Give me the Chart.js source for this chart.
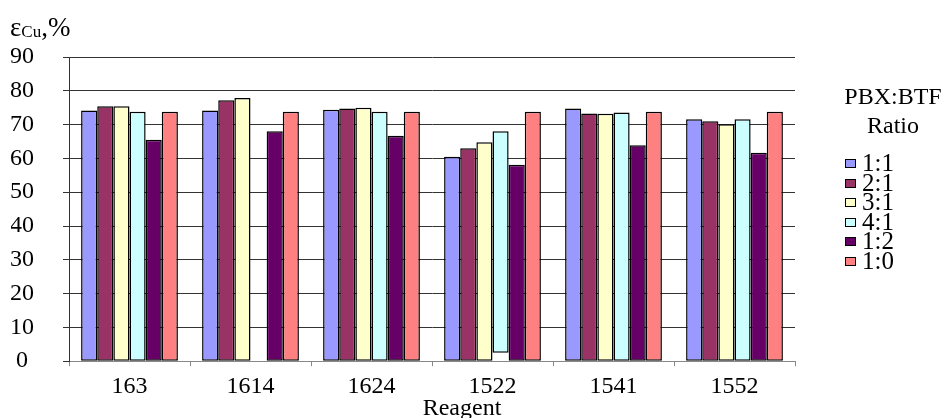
<!DOCTYPE html>
<html>
<head>
<meta charset="utf-8">
<script src="https://cdn.jsdelivr.net/npm/chart.js@4.4.0/dist/chart.umd.min.js"></script>
<style>
  body { margin: 0; background: #fff; }
  #wrap { position: relative; width: 950px; height: 418px; }
  #legend {
    position: absolute; left: 820px; top: 82px; width: 146px;
    font-family: 'Liberation Serif', serif; color: #000;
  }
  #legend .ttl { text-align: center; font-size: 24px; line-height: 29px; }
  #legend ul { list-style: none; margin: 13px 0 0 25px; padding: 0; }
  #legend li { font-size: 25px; line-height: 19.5px; height: 19.5px; }
  #legend .box {
    display: inline-block; width: 9px; height: 7px; border: 1px solid #000;
    margin-right: 6px; vertical-align: 3px;
  }
</style>
</head>
<body>
<div id="wrap">
  <canvas id="barChart" width="950" height="418"></canvas>
  <div id="legend">
    <div class="ttl">PBX:BTF<br>Ratio</div>
    <ul id="legendList"></ul>
  </div>
</div>
<script>
// Data
const reagents = ['163', '1614', '1624', '1522', '1541', '1552'];
const ratios = ['1:1', '2:1', '3:1', '4:1', '1:2', '1:0'];
const ratio11 = [74.2, 74.2, 74.4, 60.5, 74.8, 71.6];
const ratio21 = [75.4, 77.2, 74.8, 63.0, 73.3, 71.0];
const ratio31 = [75.4, 77.9, 75.0, 64.8, 73.2, 70.1];
const ratio41 = [73.8, null, 73.8, 68.0, 73.6, 71.6];
const ratio41Base = [0, 0, 0, 2.5, 0, 0];   // the 1522 bar starts above zero in the figure
const ratio12 = [65.5, 68.0, 66.7, 58.1, 63.9, 61.7];
const ratio10 = [73.8, 73.8, 73.8, 73.8, 73.8, 73.8];
const yTicks = [0, 10, 20, 30, 40, 50, 60, 70, 80, 90];

const colors = ['#9999FF', '#993366', '#FFFFCC', '#CCFFFF', '#660066', '#FF8080'];
const font = 'Liberation Serif';

const series = [
  ratio11,
  ratio21,
  ratio31,
  ratio41.map((v, i) => v === null ? null : [ratio41Base[i], v]),
  ratio12,
  ratio10
];

// Axis titles (y title has the subscript "Cu")
const axisTitles = {
  id: 'axisTitles',
  afterDraw(chart) {
    const c = chart.ctx;
    c.save();
    c.fillStyle = '#000';
    c.textBaseline = 'alphabetic';
    c.textAlign = 'left';
    c.font = '27px ' + font;
    c.fillText('ε', 10, 36);
    let x = 10 + c.measureText('ε').width;
    c.font = '17px ' + font;
    c.fillText('Cu', x, 37);
    x += c.measureText('Cu').width;
    c.font = '27px ' + font;
    c.fillText(',%', x, 36);

    c.font = '24px ' + font;
    c.textAlign = 'center';
    c.fillText('Reagent', 462, 415);
    c.restore();
  }
};

const ctx = document.getElementById('barChart').getContext('2d');
const barChart = new Chart(ctx, {
  type: 'bar',
  data: {
    labels: reagents,
    datasets: series.map((d, i) => ({
      label: ratios[i],
      data: d,
      backgroundColor: colors[i],
      borderColor: '#000',
      borderWidth: 1.5,
      borderSkipped: false,
      categoryPercentage: 0.8,
      barPercentage: 1.0
    }))
  },
  options: {
    responsive: false,
    animation: false,
    layout: { padding: { left: 11, right: 155, top: 57, bottom: 11 } },
    plugins: {
      legend: { display: false },
      tooltip: { enabled: false }
    },
    scales: {
      x: {
        grid: {
          drawOnChartArea: false,
          drawTicks: true,
          tickLength: 5,
          color: '#888'
        },
        border: { color: '#888' },
        ticks: {
          color: '#000',
          padding: 6,
          maxRotation: 0,
          font: { family: font, size: 24 }
        }
      },
      y: {
        min: 0,
        max: 90,
        afterBuildTicks: axis => { axis.ticks = yTicks.map(v => ({ value: v })); },
        afterFit: axis => { axis.width = 58; },
        grid: {
          color: '#333',
          lineWidth: 1,
          tickLength: 6
        },
        border: { color: '#333' },
        ticks: {
          color: '#000',
          padding: 29,
          crossAlign: 'center',
          font: { family: font, size: 24 }
        }
      }
    }
  },
  plugins: [axisTitles]
});

// HTML legend
const list = document.getElementById('legendList');
ratios.forEach((r, i) => {
  const li = document.createElement('li');
  li.innerHTML = `<span class="box" style="background:${colors[i]}"></span>${r}`;
  list.appendChild(li);
});
</script>
</body>
</html>
